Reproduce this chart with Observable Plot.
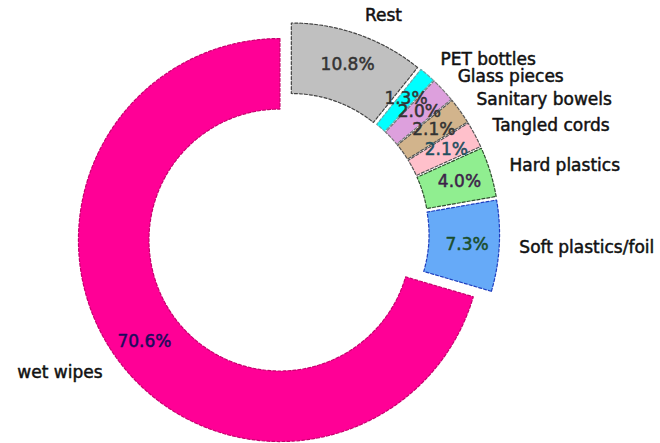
<!DOCTYPE html>
<html>
<head>
<meta charset="utf-8">
<script src="https://cdn.jsdelivr.net/npm/d3@7"></script>
<script src="https://cdn.jsdelivr.net/npm/@observablehq/plot@0.6"></script>
<style>
  html, body { margin: 0; padding: 0; background: #fff; }
  #chart svg { display: block; }
</style>
</head>
<body>
<div id="chart"></div>
<script>
// ---- data ----
const categories = ["wet wipes", "Soft plastics/foil", "Hard plastics", "Tangled cords", "Sanitary bowels", "Glass pieces", "PET bottles", "Rest"];
const values = [70.6, 7.3, 4.0, 2.1, 2.1, 2.0, 1.3, 10.8];
const fillColors = ["#ff0096", "#66aaf8", "#90ee90", "#ffc0cb", "#d2b48c", "#dda0dd", "#00ffff", "#c0c0c0"];
const edgeColors = ["#c8006e", "#1f3fbf", "#2f4f2f", "#555555", "#555555", "#777777", "#66aaaa", "#444444"];
const pctColors = ["#1c0a5c", "#1b4d2a", "#3d1f4a", "#1f4f5f", "#333333", "#333333", "#333333", "#333333"];

// ---- pie settings ----
const startAngle = 90, explode = 0.05, innerR = 0.65, labelDist = 1.1, pctDist = 0.84;

const total = d3.sum(values);
const rad = a => a * Math.PI / 180;
const wedgePts = [];
const labels = [];
const pcts = [];
let a = startAngle;
values.forEach((v, i) => {
  const span = v / total * 360;
  const a0 = a, a1 = a + span, mid = (a0 + a1) / 2;
  const cx = explode * Math.cos(rad(mid)), cy = explode * Math.sin(rad(mid));
  const n = Math.max(2, Math.ceil(span));
  for (let k = 0; k <= n; k++) {
    const t = a0 + (a1 - a0) * k / n;
    wedgePts.push({name: categories[i], x: cx + Math.cos(rad(t)), y: cy + Math.sin(rad(t)), fill: fillColors[i], edge: edgeColors[i]});
  }
  for (let k = n; k >= 0; k--) {
    const t = a0 + (a1 - a0) * k / n;
    wedgePts.push({name: categories[i], x: cx + innerR * Math.cos(rad(t)), y: cy + innerR * Math.sin(rad(t)), fill: fillColors[i], edge: edgeColors[i]});
  }
  const lx = cx + labelDist * Math.cos(rad(mid)), ly = cy + labelDist * Math.sin(rad(mid));
  labels.push({x: lx, y: ly, text: categories[i], anchor: lx >= 0 ? "start" : "end"});
  pcts.push({x: cx + pctDist * Math.cos(rad(mid)), y: cy + pctDist * Math.sin(rad(mid)), text: v.toFixed(1) + "%", color: pctColors[i]});
  a = a1;
});

// pixel mapping: 1 unit = R px, centre at (cxPx, cyPx)
const W = 660, H = 443, R = 201.5, cxPx = 287.5, cyPx = 233.5;

const chart = Plot.plot({
  width: W, height: H, margin: 0,
  style: {background: "#fff", fontFamily: "DejaVu Sans, sans-serif"},
  x: {domain: [-cxPx / R, (W - cxPx) / R], range: [0, W], axis: null},
  y: {domain: [-(H - cyPx) / R, cyPx / R], range: [H, 0], axis: null},
  marks: [
    Plot.line(wedgePts, {x: "x", y: "y", z: "name", fill: "fill", stroke: "edge", strokeWidth: 1.2, strokeDasharray: "3,2", curve: "linear-closed"}),
    Plot.text(pcts, {x: "x", y: "y", text: "text", fill: "color", stroke: "color", strokeWidth: 0.5, fontSize: 17, fontFamily: "DejaVu Sans"}),
    Plot.text(labels.filter(d => d.anchor === "start"), {x: "x", y: "y", text: "text", textAnchor: "start", fill: "#111", stroke: "#111", strokeWidth: 0.5, fontSize: 17, fontFamily: "DejaVu Sans"}),
    Plot.text(labels.filter(d => d.anchor === "end"), {x: "x", y: "y", text: "text", textAnchor: "end", fill: "#111", stroke: "#111", strokeWidth: 0.5, fontSize: 17, fontFamily: "DejaVu Sans"})
  ]
});
document.getElementById("chart").appendChild(chart);
</script>
</body>
</html>
